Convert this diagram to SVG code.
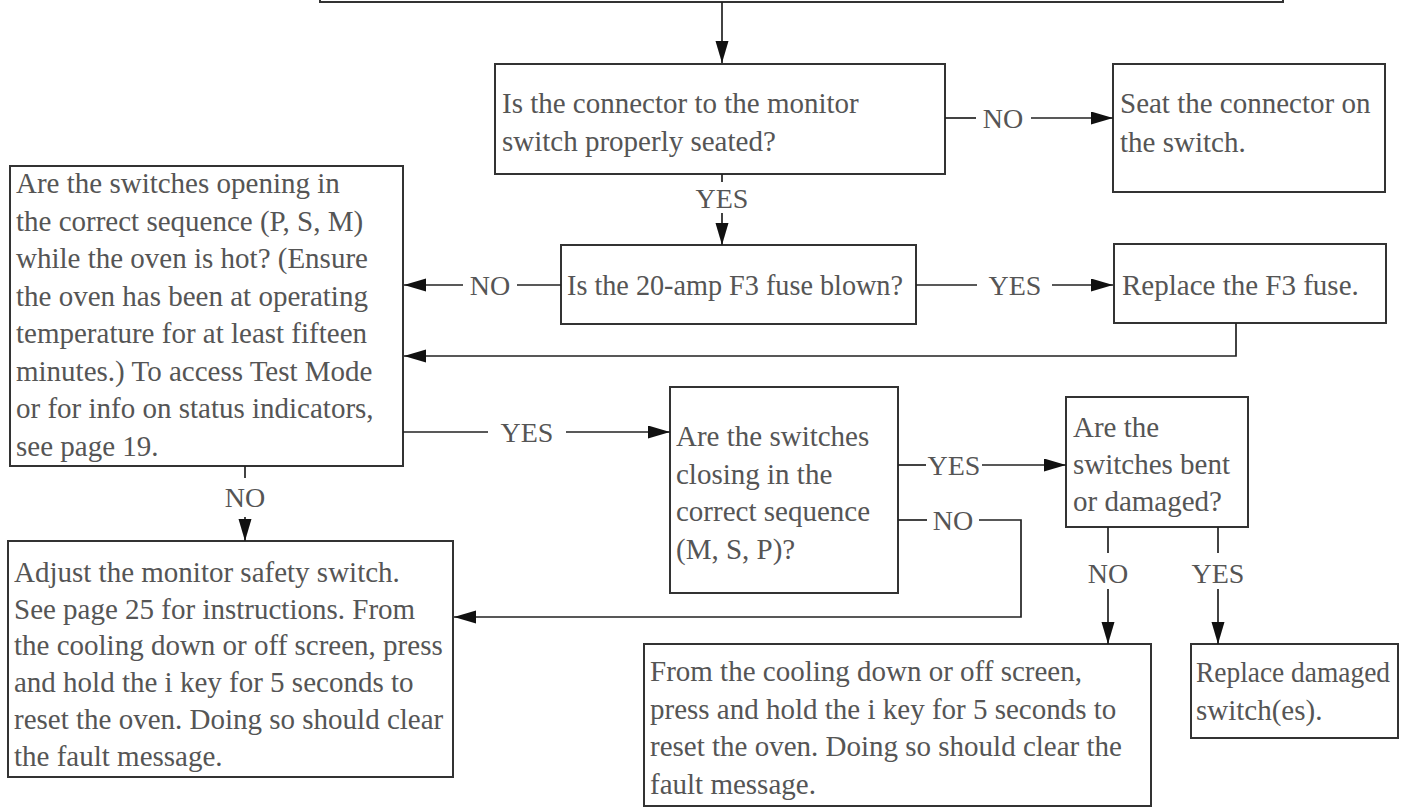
<svg xmlns="http://www.w3.org/2000/svg" width="1416" height="809" viewBox="0 0 1416 809">
<style>
.box{fill:#fff;stroke:#333;stroke-width:2}
.t{font-family:"Liberation Serif","Times New Roman",serif;font-size:29px;fill:#555}
.l{font-family:"Liberation Serif","Times New Roman",serif;font-size:28px;fill:#555;text-anchor:middle}
.c{fill:none;stroke:#222;stroke-width:1.7}
.a{marker-end:url(#arr)}
</style>
<defs>
<marker id="arr" markerUnits="userSpaceOnUse" markerWidth="24" markerHeight="14" refX="22" refY="6.5" orient="auto">
<path d="M0,0 L22,6.5 L0,13 z" fill="#111"/>
</marker>
</defs>
<rect width="1416" height="809" fill="#fff"/>

<g id="top">
<rect class="box" x="320" y="-30" width="963" height="32"/>
</g>

<g id="connectorA">
<rect class="box" x="495" y="64" width="450" height="110"/>
<text class="t" x="502" y="113">Is the connector to the monitor</text>
<text class="t" x="502" y="151">switch properly seated?</text>
</g>

<g id="seat">
<rect class="box" x="1113" y="64" width="272" height="128"/>
<text class="t" x="1120" y="113">Seat the connector on</text>
<text class="t" x="1120" y="152">the switch.</text>
</g>

<g id="fuse">
<rect class="box" x="561" y="245" width="355" height="79"/>
<text class="t" x="567" y="295" textLength="336" lengthAdjust="spacingAndGlyphs">Is the 20-amp F3 fuse blown?</text>
</g>

<g id="replaceFuse">
<rect class="box" x="1114" y="244" width="272" height="79"/>
<text class="t" x="1122" y="295">Replace the F3 fuse.</text>
</g>

<g id="opening">
<rect class="box" x="10" y="166" width="393" height="300"/>
<text class="t" x="16" y="193">Are the switches opening in</text>
<text class="t" x="16" y="230.5">the correct sequence (P, S, M)</text>
<text class="t" x="16" y="268">while the oven is hot? (Ensure</text>
<text class="t" x="16" y="305.5">the oven has been at operating</text>
<text class="t" x="16" y="343">temperature for at least fifteen</text>
<text class="t" x="16" y="380.5">minutes.) To access Test Mode</text>
<text class="t" x="16" y="418">or for info on status indicators,</text>
<text class="t" x="16" y="455.5">see page 19.</text>
</g>

<g id="closing">
<rect class="box" x="670" y="387" width="228" height="206"/>
<text class="t" x="676" y="446">Are the switches</text>
<text class="t" x="676" y="483.5">closing in the</text>
<text class="t" x="676" y="521">correct sequence</text>
<text class="t" x="676" y="558.5">(M, S, P)?</text>
</g>

<g id="bent">
<rect class="box" x="1066" y="397" width="182" height="130"/>
<text class="t" x="1073" y="437">Are the</text>
<text class="t" x="1073" y="474">switches bent</text>
<text class="t" x="1073" y="511">or damaged?</text>
</g>

<g id="adjust">
<rect class="box" x="8" y="541" width="445" height="236"/>
<text class="t" x="14" y="582">Adjust the monitor safety switch.</text>
<text class="t" x="14" y="618.7">See page 25 for instructions. From</text>
<text class="t" x="14" y="655.4">the cooling down or off screen, press</text>
<text class="t" x="14" y="692.1">and hold the i key for 5 seconds to</text>
<text class="t" x="14" y="728.8">reset the oven. Doing so should clear</text>
<text class="t" x="14" y="765.5">the fault message.</text>
</g>

<g id="reset">
<rect class="box" x="644" y="644" width="507" height="162"/>
<text class="t" x="650" y="681">From the cooling down or off screen,</text>
<text class="t" x="650" y="718.5">press and hold the i key for 5 seconds to</text>
<text class="t" x="650" y="756">reset the oven. Doing so should clear the</text>
<text class="t" x="650" y="793.5">fault message.</text>
</g>

<g id="replaceSwitch">
<rect class="box" x="1191" y="644" width="207" height="94"/>
<text class="t" x="1196" y="682" textLength="194" lengthAdjust="spacingAndGlyphs">Replace damaged</text>
<text class="t" x="1196" y="720">switch(es).</text>
</g>

<g id="connectors">
<line class="c a" x1="722" y1="2" x2="722" y2="63"/>
<line class="c" x1="945" y1="118" x2="976" y2="118"/>
<text class="l" x="1003" y="128">NO</text>
<line class="c a" x1="1031" y1="118" x2="1113" y2="118"/>
<line class="c" x1="722" y1="174" x2="722" y2="182"/>
<text class="l" x="722" y="208">YES</text>
<line class="c a" x1="722" y1="213" x2="722" y2="245"/>
<line class="c" x1="561" y1="285" x2="517" y2="285"/>
<text class="l" x="490" y="295">NO</text>
<line class="c a" x1="463" y1="285" x2="404" y2="285"/>
<line class="c" x1="916" y1="285" x2="977" y2="285"/>
<text class="l" x="1015" y="295">YES</text>
<line class="c a" x1="1052" y1="285" x2="1113" y2="285"/>
<polyline class="c a" points="1236,323 1236,356 404,356"/>
<line class="c" x1="403" y1="432" x2="488" y2="432"/>
<text class="l" x="527" y="442">YES</text>
<line class="c a" x1="566" y1="432" x2="670" y2="432"/>
<line class="c" x1="245" y1="466" x2="245" y2="478"/>
<text class="l" x="245" y="507">NO</text>
<line class="c a" x1="245" y1="517" x2="245" y2="541"/>
<line class="c" x1="898" y1="465" x2="926" y2="465"/>
<text class="l" x="954" y="475">YES</text>
<line class="c a" x1="982" y1="465" x2="1066" y2="465"/>
<line class="c" x1="898" y1="520" x2="927" y2="520"/>
<text class="l" x="953" y="530">NO</text>
<polyline class="c a" points="979,520 1021,520 1021,617 454,617"/>
<line class="c" x1="1108" y1="527" x2="1108" y2="553"/>
<text class="l" x="1108" y="583">NO</text>
<line class="c a" x1="1108" y1="589" x2="1108" y2="644"/>
<line class="c" x1="1218" y1="527" x2="1218" y2="553"/>
<text class="l" x="1218" y="583">YES</text>
<line class="c a" x1="1218" y1="589" x2="1218" y2="644"/>
</g>
</svg>
